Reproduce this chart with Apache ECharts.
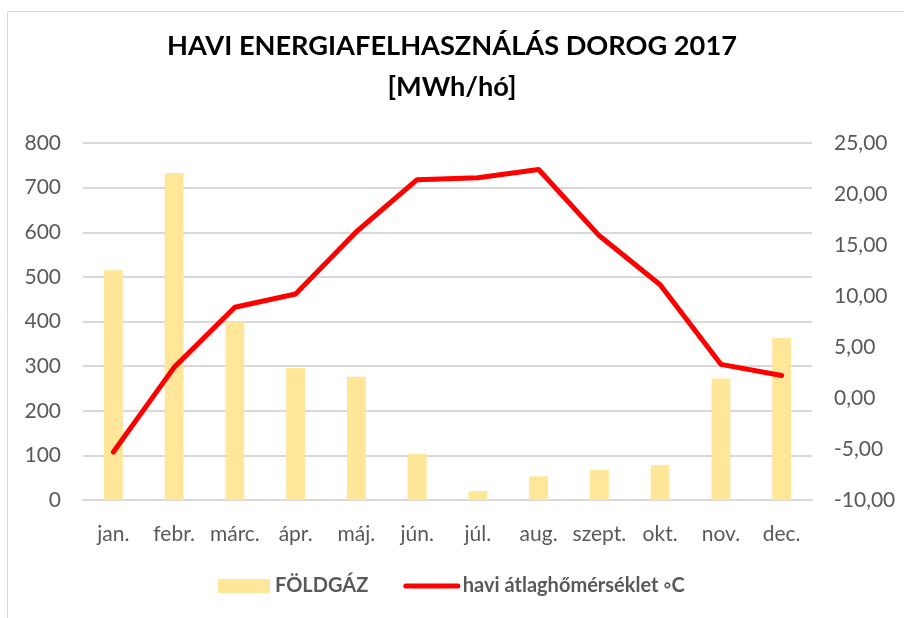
<!DOCTYPE html>
<html>
<head>
<meta charset="utf-8">
<script src="https://cdn.jsdelivr.net/npm/echarts@6/dist/echarts.min.js"></script>
<style>
  html, body { margin: 0; padding: 0; background: #fff; }
  #chart { width: 904px; height: 618px; }
</style>
</head>
<body>
<div id="chart"></div>
<script>
  // Data
  const months = ['jan.', 'febr.', 'márc.', 'ápr.', 'máj.', 'jún.', 'júl.', 'aug.', 'szept.', 'okt.', 'nov.', 'dec.'];
  const gasMWh = [515, 733, 400, 296, 276, 103, 20, 53, 67, 78, 272, 363];
  const avgTempC = [-5.3, 3.0, 8.9, 10.2, 16.3, 21.4, 21.6, 22.4, 15.9, 11.1, 3.3, 2.2];

  const labelFont = "Lato, 'Liberation Sans', sans-serif";
  const textGrey = '#595959';
  const gridGrey = '#d9d9d9';

  const chart = echarts.init(document.getElementById('chart'), null, { renderer: 'canvas' });

  const options = {
    backgroundColor: '#fff',
    animation: false,
    title: {
      text: 'HAVI ENERGIAFELHASZNÁLÁS DOROG 2017\n[MWh/hó]',
      left: 'center',
      top: 21,
      padding: [5, 5, 5, 35],
      textStyle: {
        fontFamily: labelFont,
        fontWeight: 'bold',
        fontSize: 27.2,
        lineHeight: 41,
        color: '#000'
      }
    },
    graphic: [{
      type: 'rect',
      shape: { x: 7.5, y: 11.5, width: 920, height: 640 },
      style: { fill: 'none', stroke: '#d9d9d9', lineWidth: 1 },
      silent: true
    }],
    legend: {
      bottom: 17,
      left: 213,
      itemWidth: 52,
      itemHeight: 14,
      itemGap: 35,
      textStyle: {
        fontFamily: labelFont,
        fontWeight: 'bold',
        fontSize: 20,
        color: textGrey
      },
      data: [
        { name: 'FÖLDGÁZ', icon: 'rect' },
        {
          name: 'havi átlaghőmérséklet ◦C',
          itemStyle: { opacity: 0 },
          lineStyle: { width: 5, cap: 'round', color: '#ff0000' }
        }
      ]
    },
    grid: {
      left: 83,
      right: 92,
      top: 143,
      bottom: 118,
      containLabel: false
    },
    xAxis: {
      type: 'category',
      data: months,
      axisTick: { show: false },
      axisLine: { lineStyle: { color: gridGrey, width: 2 } },
      axisLabel: {
        margin: 24,
        fontFamily: labelFont,
        fontSize: 21,
        color: textGrey,
        interval: 0
      }
    },
    yAxis: [
      {
        type: 'value',
        min: 0,
        max: 800,
        interval: 100,
        axisLine: { show: false },
        axisTick: { show: false },
        splitLine: { lineStyle: { color: gridGrey, width: 2 } },
        axisLabel: {
          margin: 22,
          fontFamily: labelFont,
          fontSize: 21,
          color: textGrey
        }
      },
      {
        type: 'value',
        min: -10,
        max: 25,
        interval: 5,
        axisLine: { show: false },
        axisTick: { show: false },
        splitLine: { show: false },
        axisLabel: {
          margin: 22,
          fontFamily: labelFont,
          fontSize: 21,
          color: textGrey,
          formatter: (v) => v.toFixed(2).replace('.', ',')
        }
      }
    ],
    series: [
      {
        name: 'FÖLDGÁZ',
        type: 'bar',
        data: gasMWh,
        barWidth: '31%',
        itemStyle: { color: '#ffe699' }
      },
      {
        name: 'havi átlaghőmérséklet ◦C',
        type: 'line',
        yAxisIndex: 1,
        data: avgTempC,
        symbol: 'none',
        lineStyle: { color: '#ff0000', width: 5, cap: 'round', join: 'round' },
        itemStyle: { color: '#ff0000' }
      }
    ]
  };

  chart.setOption(options);
</script>
</body>
</html>
